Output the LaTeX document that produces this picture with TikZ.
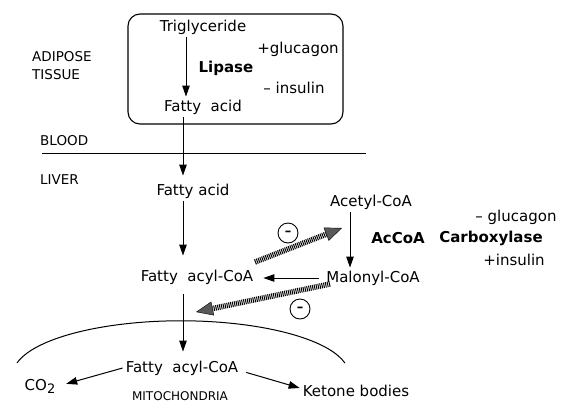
\documentclass[tikz,border=0pt]{standalone}
\usepackage{fontspec}
\setmainfont{DejaVu Sans}
\usetikzlibrary{arrows.meta,calc}
\tikzset{
  txt/.style={inner sep=3pt,font=\fontsize{15}{17}\selectfont},
  bld/.style={txt,font=\fontsize{15}{17}\selectfont\bfseries},
  reg/.style={anchor=west,inner sep=0pt,font=\fontsize{13.5}{15}\selectfont},
  fl/.style={-{Triangle[length=11pt,width=7.5pt]},line width=1pt},
  inh/.style={-{Triangle[length=17pt,width=14pt,fill=black!65,line width=0.4pt]},
    line width=5.5pt,dash pattern=on 1pt off 0.9pt},
  neg/.style={circle,draw,line width=0.9pt,minimum size=20pt,inner sep=0pt,
    font=\fontsize{13}{13}\selectfont\bfseries},
}
\begin{document}
\begin{tikzpicture}[x=1pt,y=-1pt]
  \useasboundingbox (0,0) rectangle (569,410);
  % adipose tissue
  \draw[line width=1.1pt,rounded corners=12pt] (128,14) rectangle (343,124);
  \node[txt] (tg) at (203,27) {Triglyceride};
  \node[txt] (fa1) at (203,107) {Fatty\ \ acid};
  \node[bld] (lip) at (226,68) {Lipase};
  \node[txt] (glu1) at (298,49) {+glucagon};
  \node[txt] (ins1) at (294,88) {-- insulin};
  \node[reg] (ad) at (32,57) {ADIPOSE};
  \node[reg] (ts) at (32,75) {TISSUE};
  % blood and liver
  \node[reg] (bl) at (40,141) {BLOOD};
  \node[reg] (li) at (40,180) {LIVER};
  \coordinate (bl0) at (42,153);
  \coordinate (bl1) at (366,153);
  \draw[line width=1pt] (bl0) -- (bl1);
  \node[txt] (fa2) at (193,191) {Fatty acid};
  \node[txt] (acyl) at (197,277) {Fatty\ \ acyl-CoA};
  \node[txt] (acet) at (371,202) {Acetyl-CoA};
  \node[txt] (mal) at (373,278) {Malonyl-CoA};
  \node[txt] (glu2) at (516,217) {-- glucagon};
  \node[bld] (acc) at (398,238) {AcCoA};
  \node[bld] (carb) at (491,238) {Carboxylase};
  \node[txt] (ins2) at (514,260) {+insulin};
  \node[neg] (n1) at (288,233) {--};
  \node[neg] (n2) at (300,309) {--};
  % mitochondria
  \draw[line width=1pt] (17,363) arc[start angle=192.6,end angle=347.4,x radius=168,y radius=54];
  \node[txt] (acyl2) at (182,368) {Fatty\ \ acyl-CoA};
  \node[txt] (co2) at (40,386) {CO\raisebox{-0.35ex}{\fontsize{13}{13}\selectfont 2}};
  \node[txt] (ket) at (356,391) {Ketone bodies};
  \node[reg,anchor=center,font=\fontsize{12}{14}\selectfont] (mito) at (180,396) {MITOCHONDRIA};
  % flow
  \coordinate (colA) at (186,0);
  \coordinate (col) at (183,0);
  \draw[fl] (tg.south -| colA) -- (fa1.north -| colA);
  \draw[fl,shorten >=5pt] (fa1.south -| col) -- (fa2.north -| col);
  \draw[fl,shorten >=11pt] (fa2.south -| col) -- (acyl.north -| col);
  \draw[fl] ([xshift=-21]acet.south) -- ([xshift=-21]acet.south |- mal.north);
  \draw[fl,shorten <=4pt,shorten >=7pt] (mal.west) -- (mal.west -| acyl.east);
  \draw[fl,shorten <=7pt,shorten >=6pt] (acyl.south -| col) -- (acyl2.north -| col);
  \draw[fl,shorten >=8pt] (acyl2.west) -- (co2.east);
  \draw[fl,shorten <=5pt] ([yshift=-3]acyl2.east) -- ([yshift=3]ket.west);
  % inhibition
  \coordinate (h1a) at (255,262);
  \coordinate (h1b) at (342,228);
  \coordinate (h2a) at (330,284);
  \coordinate (h2b) at (196,312);
  \draw[inh] (h1a) -- (h1b);
  \draw[inh] (h2a) -- (h2b);
\end{tikzpicture}
\end{document}
